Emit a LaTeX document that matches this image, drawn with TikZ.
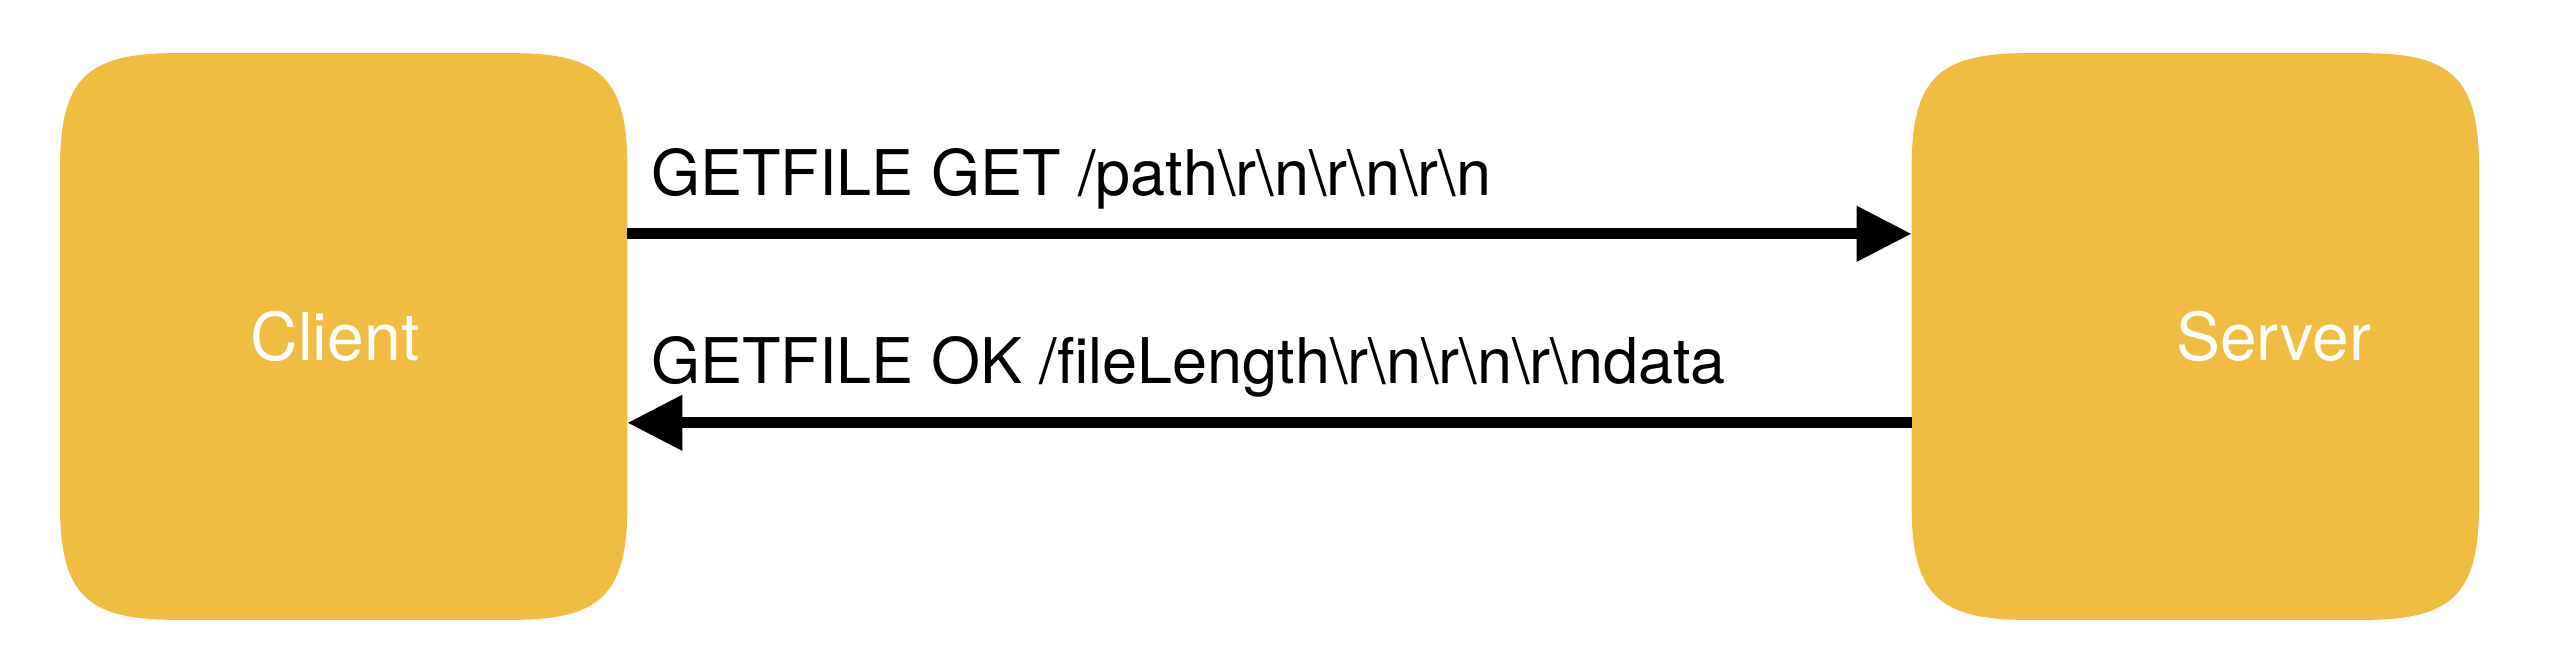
\documentclass[tikz,border=0pt]{standalone}
\usepackage{fontspec}
\setmainfont{TeX Gyre Heros}
\usetikzlibrary{arrows.meta,backgrounds}
\definecolor{boxfill}{RGB}{240,188,66}
\newcommand\squirclefill[1]{%
  \fill[boxfill]
    ([yshift=-115pt]#1.north west) .. controls ([yshift=-26pt]#1.north west) and ([xshift=26pt]#1.north west) .. ([xshift=115pt]#1.north west)
    -- ([xshift=-115pt]#1.north east) .. controls ([xshift=-26pt]#1.north east) and ([yshift=-26pt]#1.north east) .. ([yshift=-115pt]#1.north east)
    -- ([yshift=115pt]#1.south east) .. controls ([yshift=26pt]#1.south east) and ([xshift=-26pt]#1.south east) .. ([xshift=-115pt]#1.south east)
    -- ([xshift=115pt]#1.south west) .. controls ([xshift=26pt]#1.south west) and ([yshift=26pt]#1.south west) .. ([yshift=115pt]#1.south west)
    -- cycle;}
\tikzset{
  box/.style={rectangle, inner sep=0pt, minimum width=567pt, minimum height=566.3pt},
  boxlabel/.style={anchor=base, inner sep=0pt, text=white, font=\fontsize{66}{78}\selectfont},
  msg/.style={anchor=base west, inner sep=0pt, text=black, font=\fontsize{63}{75}\selectfont},
  conn/.style={line width=11pt, -{Triangle[length=55pt,width=53pt]}}
}
\begin{document}
\begin{tikzpicture}[x=1pt,y=-1pt]
  \useasboundingbox (0,0) rectangle (2566,670);
  \node[box] (client) at (343.7,336.5) {};
  \node[box] (server) at (2195.3,336.5) {};
  \begin{scope}[on background layer]
    \squirclefill{client}
    \squirclefill{server}
  \end{scope}
  \node[boxlabel] (clientlbl) at (335,360) {Client};
  \node[boxlabel] (serverlbl) at (2273.5,360) {Server};
  \coordinate (r1) at (0,233.8);
  \coordinate (r2) at (0,422.8);
  \draw[conn] (client.east |- r1) -- (server.west |- r1);
  \draw[conn] (server.west |- r2) -- (client.east |- r2);
  \node[msg] (req) at (651,195.5) {GETFILE GET /path\textbackslash r\textbackslash n\textbackslash r\textbackslash n\textbackslash r\textbackslash n};
  \node[msg] (resp) at (651,383) {GETFILE OK /fileLength\textbackslash r\textbackslash n\textbackslash r\textbackslash n\textbackslash r\textbackslash ndata};
\end{tikzpicture}
\end{document}
